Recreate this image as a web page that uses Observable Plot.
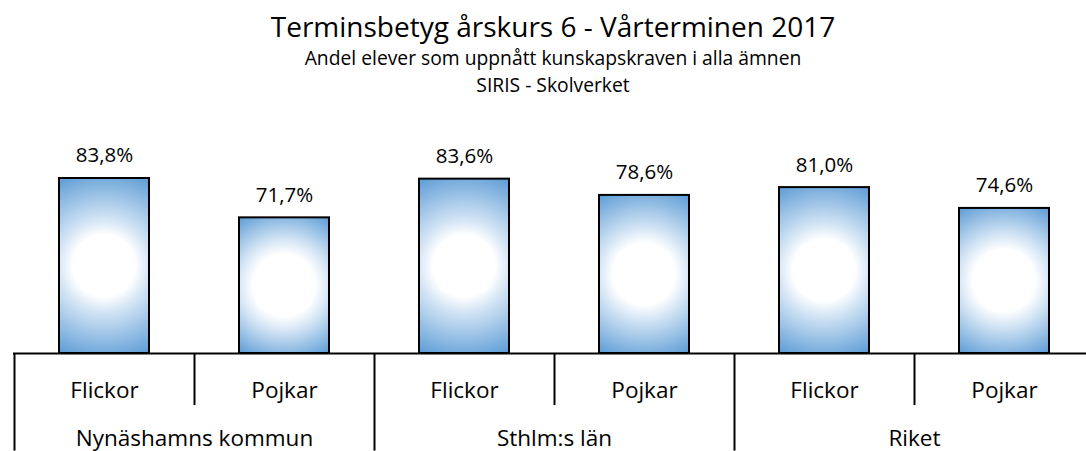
<!DOCTYPE html>
<html>
<head>
<meta charset="utf-8">
<script src="https://cdn.jsdelivr.net/npm/d3@7"></script>
<script src="https://cdn.jsdelivr.net/npm/@observablehq/plot@0.6"></script>
<style>
  body { margin: 0; background: #fff; font-family: "Open Sans", sans-serif; color: #000; }
  #header { position: relative; width: 1086px; height: 100px; }
  #header div { position: absolute; left: 20px; width: 1066px; text-align: center; white-space: nowrap; }
</style>
</head>
<body>
<div id="header">
  <div style="top:12px;font-size:28px;line-height:28px">Terminsbetyg årskurs 6 - Vårterminen 2017</div>
  <div style="top:47.8px;font-size:19.3px;line-height:19.3px">Andel elever som uppnått kunskapskraven i alla ämnen</div>
  <div style="top:74.8px;font-size:19.3px;line-height:19.3px">SIRIS - Skolverket</div>
</div>
<div id="chart"></div>
<script>
// ---- data ----
const groups = ["Nynäshamns kommun", "Sthlm:s län", "Riket"];
const genders = ["Flickor", "Pojkar"];
const values = [83.8, 71.7, 83.6, 78.6, 81.0, 74.6];

// ---- table built from the arrays ----
const rows = groups.flatMap((g, gi) =>
  genders.map((s, si) => ({
    id: gi * 2 + si,
    group: g,
    gender: s,
    key: g + " · " + s,
    value: values[gi * 2 + si],
    first: si === 0
  }))
);
const fmt = v => v.toFixed(1).replace(".", ",") + "%";
const yMin = 30;
const barWidth = 90;

// gradient definitions, one per bar, positioned with Plot's scales
function gradientDefs(index, scales) {
  const x = scales.x, y = scales.y;
  const bw = x.bandwidth ? x.bandwidth() : 180;
  const defs = d3.create("svg:defs");
  rows.forEach(d => {
    const cx = x(d.key) + bw / 2;
    const yTop = y(d.value), yBot = y(yMin);
    const cy = (yTop + yBot) / 2;
    const r = Math.hypot(barWidth / 2, (yBot - yTop) / 2);
    const g = defs.append("radialGradient")
      .attr("id", "grad-" + d.id)
      .attr("gradientUnits", "userSpaceOnUse")
      .attr("cx", cx).attr("cy", cy).attr("r", r);
    g.append("stop").attr("offset", 0).attr("stop-color", "#ffffff");
    g.append("stop").attr("offset", Math.min(0.5, 31 / r)).attr("stop-color", "#ffffff");
    g.append("stop").attr("offset", Math.min(0.7, 46 / r)).attr("stop-color", "#d4e5f5");
    g.append("stop").attr("offset", 1).attr("stop-color", "#5B9BD5");
  });
  return defs.node();
}

const chart = Plot.plot({
  width: 1086,
  height: 351,
  marginLeft: 13,
  marginRight: 0,
  marginTop: 0,
  marginBottom: 0,
  x: { domain: rows.map(d => d.key), range: [14, 1094], padding: 0, axis: null },
  y: { domain: [yMin, 100], range: [253, 25.3], axis: null },
  style: { fontFamily: '"Open Sans", sans-serif', background: "white", color: "black" },
  marks: [
    gradientDefs,
    Plot.barY(rows, {
      x: "key", y1: yMin, y2: "value",
      insetLeft: 45, insetRight: 45,
      fill: d => "url(#grad-" + d.id + ")",
      stroke: "black", strokeWidth: 2
    }),
    Plot.ruleY([yMin], { stroke: "black", strokeWidth: 2 }),
    Plot.ruleX(rows.filter(d => d.first), { x: "key", y1: yMin, y2: 0, dx: -90, stroke: "black", strokeWidth: 2 }),
    Plot.ruleX(rows.filter(d => !d.first), { x: "key", y1: yMin, y2: 14, dx: -90, stroke: "black", strokeWidth: 2 }),
    Plot.text(rows, { x: "key", y: "value", text: d => fmt(d.value), dy: -16, lineAnchor: "bottom", fontSize: 20.5, fill: "black" }),
    Plot.text(rows, { x: "key", y: yMin, text: "gender", dy: 44, lineAnchor: "bottom", fontSize: 22.5, fill: "black" }),
    Plot.text(rows.filter(d => !d.first), { x: "key", y: yMin, text: "group", dx: -90, dy: 92, lineAnchor: "bottom", fontSize: 22.5, fill: "black" })
  ]
});
document.getElementById("chart").appendChild(chart);
</script>
</body>
</html>
